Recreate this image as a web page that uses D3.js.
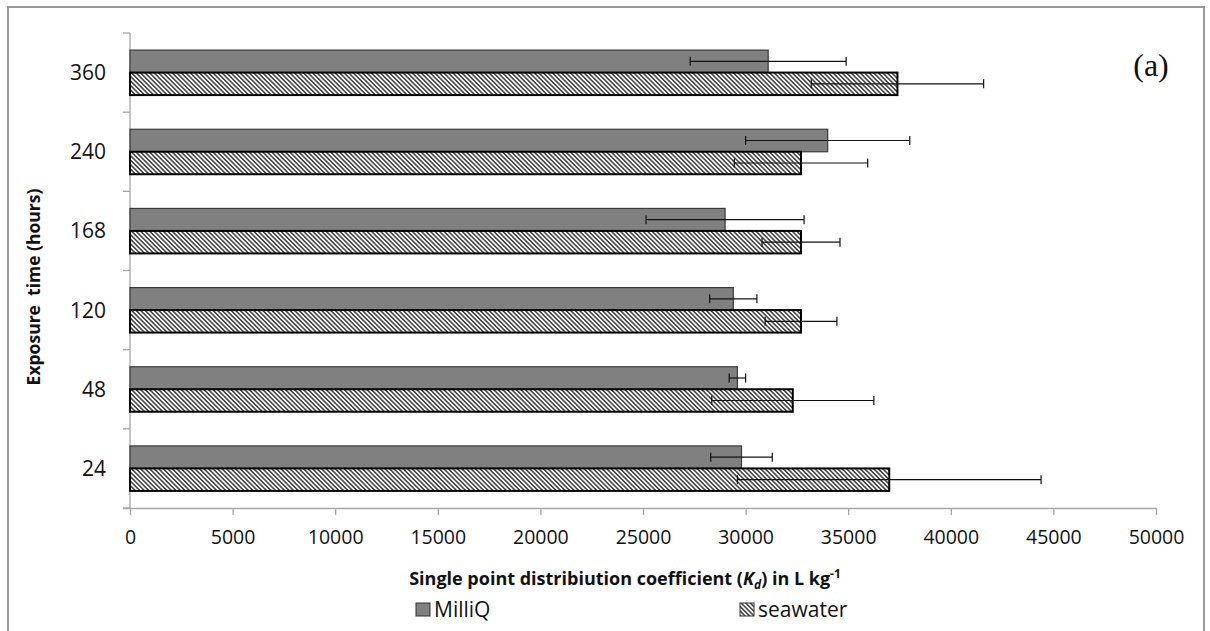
<!DOCTYPE html>
<html>
<head>
<meta charset="utf-8">
<script src="https://cdn.jsdelivr.net/npm/d3@7"></script>
<style>
  html, body { margin: 0; padding: 0; background: #fff; }
  svg { display: block; }
</style>
</head>
<body>
<svg id="chart" width="1210" height="631"></svg>
<script>
// ---- data ----
const categories = ["360", "240", "168", "120", "48", "24"];
const seriesNames = ["MilliQ", "seawater"];
const milliQ = [31100, 34000, 29000, 29400, 29600, 29800];
const milliQErr = [3800, 4000, 3850, 1150, 400, 1500];
const seawater = [37400, 32700, 32700, 32700, 32300, 37000];
const seawaterErr = [4200, 3250, 1900, 1750, 3950, 7400];
const xTicks = [0, 5000, 10000, 15000, 20000, 25000, 30000, 35000, 40000, 45000, 50000];

const svg = d3.select("#chart");

// frame
svg.append("rect").attr("x", 8).attr("y", 7).attr("width", 1196).attr("height", 700)
  .attr("fill", "#fff").attr("stroke", "#9a9a9a").attr("stroke-width", 2);

// hatch pattern
const defs = svg.append("defs");
const pat = defs.append("pattern").attr("id", "hatch").attr("patternUnits", "userSpaceOnUse")
  .attr("width", 3.2).attr("height", 3.2).attr("patternTransform", "rotate(-45)");
pat.append("rect").attr("width", 3.2).attr("height", 3.2).attr("fill", "#fff");
pat.append("line").attr("x1", 0.8).attr("y1", 0).attr("x2", 0.8).attr("y2", 3.2)
  .attr("stroke", "#3c3c3c").attr("stroke-width", 1.5);

const x = d3.scaleLinear().domain([0, 50000]).range([130, 1156]);
const y = d3.scaleBand().domain(categories).range([33, 508]).padding(0);
const y1 = d3.scaleBand().domain(seriesNames).range([0, y.bandwidth()]).paddingInner(0).paddingOuter(0.76);

// axes
const xAxis = d3.axisBottom(x).tickValues(xTicks).tickSize(7).tickFormat(d => String(d));
const gx = svg.append("g").attr("transform", `translate(0,508)`).call(xAxis);
gx.select(".domain").attr("stroke", "#a6a6a6").attr("stroke-width", 1.3).attr("d", `M${x(0) - 7},0.5H${x(50000)}`);
gx.selectAll(".tick line").attr("stroke", "#a6a6a6").attr("stroke-width", 1.3);
gx.selectAll(".tick text").attr("font-family", "'Open Sans', sans-serif").attr("font-size", 19.5)
  .attr("fill", "#111").attr("dy", "0.71em").attr("y", 22);

// y axis with ticks at band boundaries
const gy = svg.append("g");
gy.append("line").attr("x1", 130).attr("x2", 130).attr("y1", 33).attr("y2", 508)
  .attr("stroke", "#a6a6a6").attr("stroke-width", 1.3);
const boundaries = categories.map(c => y(c)).concat([y(categories[categories.length - 1]) + y.bandwidth()]);
gy.selectAll(".yt").data(boundaries).join("line").attr("class", "yt")
  .attr("x1", 123).attr("x2", 130).attr("y1", d => d).attr("y2", d => d)
  .attr("stroke", "#a6a6a6").attr("stroke-width", 1.3);
gy.selectAll(".yl").data(categories).join("text").attr("class", "yl")
  .attr("x", 106).attr("y", d => y(d) + y.bandwidth() / 2).attr("dy", "0.36em")
  .attr("text-anchor", "end").attr("font-family", "'Open Sans', sans-serif")
  .attr("font-size", 21).attr("fill", "#111").text(d => d);

// bars
const rows = categories.map((c, i) => ({
  cat: c,
  vals: [
    { s: "MilliQ", v: milliQ[i], e: milliQErr[i] },
    { s: "seawater", v: seawater[i], e: seawaterErr[i] }
  ]
}));
const groups = svg.append("g").selectAll("g").data(rows).join("g")
  .attr("transform", d => `translate(0,${y(d.cat)})`);
groups.selectAll("rect").data(d => d.vals).join("rect")
  .attr("x", x(0)).attr("y", d => y1(d.s)).attr("width", d => x(d.v) - x(0)).attr("height", y1.bandwidth())
  .attr("fill", d => d.s === "MilliQ" ? "#808080" : "url(#hatch)")
  .attr("stroke", d => d.s === "MilliQ" ? "#3a3a3a" : "#000")
  .attr("stroke-width", d => d.s === "MilliQ" ? 1.2 : 2);
// error bars
const eb = groups.selectAll("g.err").data(d => d.vals).join("g").attr("class", "err")
  .attr("transform", d => `translate(0,${y1(d.s) + y1.bandwidth() / 2})`);
eb.append("line").attr("x1", d => x(d.v - d.e)).attr("x2", d => x(d.v + d.e)).attr("y1", 0).attr("y2", 0)
  .attr("stroke", "#111").attr("stroke-width", 1.2);
eb.append("line").attr("x1", d => x(d.v - d.e)).attr("x2", d => x(d.v - d.e)).attr("y1", -4.5).attr("y2", 4.5)
  .attr("stroke", "#111").attr("stroke-width", 1.2);
eb.append("line").attr("x1", d => x(d.v + d.e)).attr("x2", d => x(d.v + d.e)).attr("y1", -4.5).attr("y2", 4.5)
  .attr("stroke", "#111").attr("stroke-width", 1.2);

// y title
svg.append("text").attr("transform", "translate(40,287) rotate(-90)")
  .attr("text-anchor", "middle").attr("font-family", "'Open Sans', sans-serif")
  .attr("font-weight", "bold").attr("font-size", 17.5).attr("fill", "#111")
  .attr("xml:space", "preserve").text("Exposure  time (hours)");

// x title
const xt = svg.append("text").attr("x", 625).attr("y", 585).attr("text-anchor", "middle")
  .attr("font-family", "'Open Sans', sans-serif").attr("font-weight", "bold")
  .attr("font-size", 18).attr("fill", "#111");
xt.append("tspan").text("Single point distribiution coefficient (");
xt.append("tspan").attr("font-style", "italic").text("K");
xt.append("tspan").attr("font-style", "italic").attr("font-size", 12).attr("dy", 4).text("d");
xt.append("tspan").attr("dy", -4).text(") in L kg");
xt.append("tspan").attr("font-size", 12).attr("dy", -7).text("-1");

// legend
const legendX = [416, 740];
const lg = svg.append("g").selectAll("g").data(seriesNames).join("g")
  .attr("transform", (d, i) => `translate(${legendX[i]},603)`);
lg.append("rect").attr("width", 14).attr("height", 13)
  .attr("fill", d => d === "MilliQ" ? "#808080" : "url(#hatch)")
  .attr("stroke", "#333").attr("stroke-width", 1);
lg.append("text").attr("x", 18).attr("y", 14).attr("font-family", "'Open Sans', sans-serif")
  .attr("font-size", 21).attr("fill", "#111").text(d => d);

// panel label
svg.append("text").attr("x", 1151).attr("y", 76).attr("text-anchor", "middle")
  .attr("font-family", "'Liberation Serif', 'Times New Roman', serif").attr("font-size", 32)
  .attr("fill", "#111").text("(a)");
</script>
</body>
</html>
